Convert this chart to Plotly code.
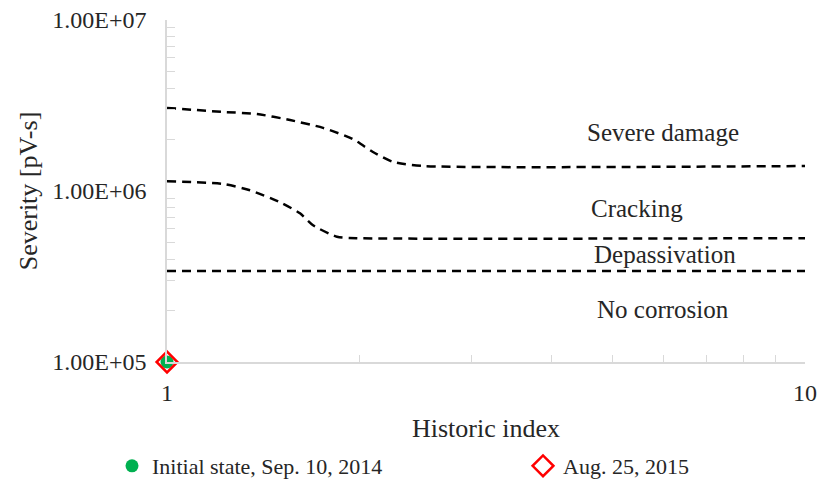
import math
import plotly.graph_objects as go

# Boundary curves between corrosion states (historic index vs severity)
severe_x = [1.0, 1.224, 1.384, 1.559, 1.756, 1.957, 2.103, 2.26, 2.52, 10.0]
severe_y = [3.06e6, 2.90e6, 2.82e6, 2.60e6, 2.34e6, 2.01e6, 1.69e6, 1.48e6, 1.40e6, 1.40e6]

crack_x = [1.0, 1.224, 1.349, 1.504, 1.616, 1.694, 1.847, 1.98, 10.0]
crack_y = [1.14e6, 1.10e6, 1.01e6, 8.6e5, 7.4e5, 6.3e5, 5.4e5, 5.3e5, 5.3e5]

depass_x = [1.0, 10.0]
depass_y = [3.4e5, 3.4e5]

# Observed states
initial_x, initial_y = [1], [1e5]
aug_x, aug_y = [1], [1e5]

# Region labels
region_labels = ["Severe damage", "Cracking", "Depassivation", "No corrosion"]
region_x = [5.99, 5.45, 6.03, 5.99]
region_y = [2.21e6, 7.95e5, 4.28e5, 2.04e5]

y_ticks = [1e5, 1e6, 1e7]
y_tick_text = ["1.00E+05", "1.00E+06", "1.00E+07"]
x_ticks = [1, 10]
x_tick_text = ["1", "10"]

FONT = "Liberation Serif, Times New Roman, serif"
TEXT = "#262626"
AXIS_GRAY = "#d9d9d9"
dash_line = dict(color="#000000", width=2.5, dash="9px,6px", shape="spline", smoothing=0.6)

fig = go.Figure()
for xs, ys in [(severe_x, severe_y), (crack_x, crack_y), (depass_x, depass_y)]:
    fig.add_trace(go.Scatter(x=xs, y=ys, mode="lines", line=dash_line,
                             showlegend=False, hoverinfo="skip"))

fig.add_trace(go.Scatter(x=initial_x, y=initial_y, mode="markers",
                         name="Initial state, Sep. 10, 2014", legend="legend",
                         marker=dict(symbol="circle", size=13, color="#00b050"),
                         cliponaxis=False))
fig.add_trace(go.Scatter(x=aug_x, y=aug_y, mode="markers",
                         name="Aug. 25, 2015", legend="legend2",
                         marker=dict(symbol="diamond-open", size=16, color="#ff0000",
                                     line=dict(width=2.5, color="#ff0000")),
                         cliponaxis=False))

# annotations on log axes take log10 coordinates
for txt, xv, yv in zip(region_labels, region_x, region_y):
    fig.add_annotation(x=math.log10(xv), y=math.log10(yv), xref="x", yref="y",
                       text=txt, showarrow=False,
                       font=dict(family=FONT, size=25, color=TEXT))

minor_y = [m * 10 ** e for e in (5, 6) for m in range(2, 10)]
minor_x = list(range(2, 10))

L, R, T, B = 167, 13, 20, 124
PW = 818 - L - R
PH = 486 - T - B


def px_to_paper_x(px):
    return (px - L) / PW


def px_to_paper_y(py):
    return (486 - B - py) / PH


legend_common = dict(orientation="h", xanchor="left", yanchor="middle",
                     font=dict(family=FONT, size=22, color=TEXT),
                     itemwidth=30, bgcolor="rgba(0,0,0,0)")

fig.update_layout(
    width=818, height=486,
    margin=dict(l=L, r=R, t=T, b=B, autoexpand=False),
    paper_bgcolor="white", plot_bgcolor="white",
    font=dict(family=FONT, size=24, color=TEXT),
    xaxis=dict(type="log", range=[0, 1], tickvals=x_ticks, ticktext=x_tick_text,
               automargin=False,
               showgrid=False, zeroline=False, showline=True, linecolor=AXIS_GRAY,
               linewidth=1.5, ticks="", ticklabelstandoff=8,
               tickfont=dict(family=FONT, size=24, color=TEXT),
               minor=dict(tickvals=minor_x, ticks="inside", ticklen=7,
                          tickcolor=AXIS_GRAY, showgrid=False),
               title=dict(text="Historic index", standoff=14,
                          font=dict(family=FONT, size=26, color=TEXT))),
    yaxis=dict(type="log", range=[5, 7], tickvals=y_ticks, ticktext=y_tick_text,
               automargin=False,
               showgrid=False, zeroline=False, showline=True, linecolor=AXIS_GRAY,
               linewidth=1.5, ticks="", ticklabelstandoff=14,
               tickfont=dict(family=FONT, size=24, color=TEXT),
               minor=dict(tickvals=minor_y, ticks="inside", ticklen=8,
                          tickcolor=AXIS_GRAY, showgrid=False),
               title=dict(text="Severity [pV-s]", standoff=7,
                          font=dict(family=FONT, size=26, color=TEXT))),
    legend=dict(x=px_to_paper_x(112), y=px_to_paper_y(466), **legend_common),
    legend2=dict(x=px_to_paper_x(523), y=px_to_paper_y(466), **legend_common),
)

fig.write_html("out.html")
